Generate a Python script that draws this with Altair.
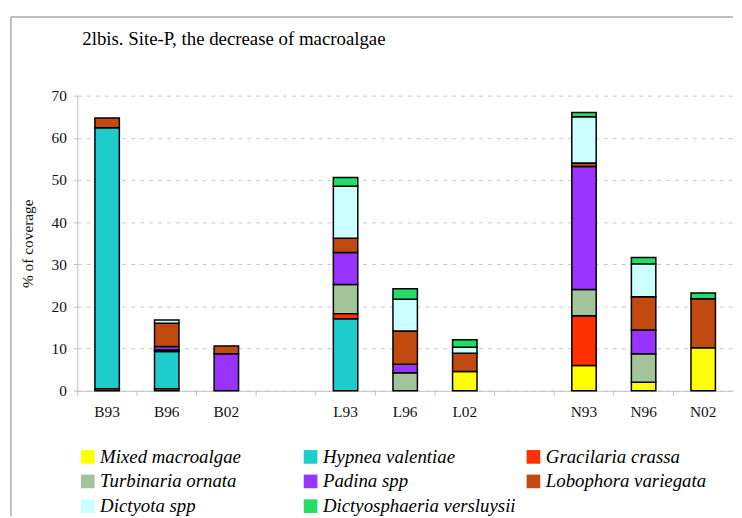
import altair as alt
import pandas as pd

title_text = "2lbis. Site-P, the decrease of macroalgae"
samples = ["B93", "B96", "B02", "L93", "L96", "L02", "N93", "N96", "N02"]
x_slots = ["B93", "B96", "B02", "gap1", "L93", "L96", "L02", "gap2", "N93", "N96", "N02"]

species = [
    "Mixed macroalgae", "Hypnea valentiae", "Gracilaria crassa",
    "Turbinaria ornata", "Padina spp", "Lobophora variegata",
    "Dictyota spp", "Dictyosphaeria versluysii",
]
colors = ["#FFFF00", "#1FCCCC", "#FF3000", "#A3C49B", "#9933FF", "#C24A10", "#CCFFFF", "#22DD66"]

mixed      = [0.5, 0.5, 0.0, 0.0, 0.0, 4.6, 6.0, 2.0, 10.2]
hypnea     = [61.9, 8.8, 0.0, 17.1, 0.0, 0.0, 0.0, 0.0, 0.0]
gracilaria = [0.0, 0.0, 0.0, 1.2, 0.0, 0.0, 11.8, 0.0, 0.0]
turbinaria = [0.0, 0.4, 0.0, 6.9, 4.3, 0.0, 6.2, 6.8, 0.0]
padina     = [0.0, 0.8, 8.8, 7.6, 2.0, 0.0, 29.2, 5.6, 0.0]
lobophora  = [2.3, 5.5, 1.8, 3.4, 7.9, 4.3, 0.8, 7.9, 11.6]
dictyota   = [0.0, 0.8, 0.0, 12.3, 7.5, 1.4, 11.0, 7.8, 0.0]
dictyosph  = [0.0, 0.0, 0.0, 2.1, 2.5, 1.8, 1.0, 1.5, 1.4]

series = [mixed, hypnea, gracilaria, turbinaria, padina, lobophora, dictyota, dictyosph]

rows = []
for k, (name, vals) in enumerate(zip(species, series)):
    for s, v in zip(samples, vals):
        if v > 0:
            rows.append({"sample": s, "species": name, "value": v, "idx": k})
df = pd.DataFrame(rows)

FONT = "Liberation Serif"
xscale = alt.Scale(domain=x_slots, paddingInner=0, paddingOuter=0)
xaxis = alt.Axis(title=None, labelExpr="indexof(datum.value,'gap')>=0 ? '' : datum.value",
                 labelAngle=0, ticks=False, domainColor="#c0c0c0",
                 labelPadding=14, grid=False)

bars = alt.Chart(df).mark_bar(
    width=alt.RelativeBandSize(0.41), stroke="black", strokeWidth=1.5
).encode(
    x=alt.X("sample:N", scale=xscale, axis=xaxis),
    y=alt.Y("value:Q", stack="zero", scale=alt.Scale(domain=[0, 70], nice=False),
            axis=alt.Axis(title="% of coverage", tickCount=7,
                          tickSize=4, tickColor="#c0c0c0", domainColor="#c0c0c0",
                          labelPadding=7, titlePadding=16,
                          grid=True, gridDash=[4, 5], gridColor="#c8c8c8")),
    color=alt.Color("species:N", scale=alt.Scale(domain=species, range=colors),
                    legend=alt.Legend(title=None, orient="none", legendX=1, legendY=355,
                                      direction="horizontal", columns=3,
                                      symbolType="square", symbolSize=190,
                                      symbolStrokeWidth=0, labelFont=FONT, labelFontStyle="italic",
                                      labelFontSize=19, labelColor="black", gridAlign="all",
                                      columnPadding=8, rowPadding=5, labelOffset=3,
                                      padding=0, labelLimit=400)),
    order=alt.Order("idx:Q", sort="ascending"),
)

tick_df = pd.DataFrame({"sample": x_slots})
xticks = alt.Chart(tick_df).mark_rule(color="#c0c0c0", strokeWidth=1).encode(
    x=alt.X("sample:N", scale=xscale, bandPosition=0, axis=xaxis),
    y=alt.value(298), y2=alt.value(303),
)

one = alt.Data(values=[{"t": title_text}])
title_mark = alt.Chart(one).mark_text(
    font=FONT, fontSize=19, color="black", align="left", baseline="alphabetic"
).encode(x=alt.value(5), y=alt.value(-51), text="t:N")

top_rule = alt.Chart(one).mark_rule(color="#aaaaaa", strokeWidth=1.5).encode(
    x=alt.value(-67), x2=alt.value(662), y=alt.value(-79.5))
left_rule = alt.Chart(one).mark_rule(color="#aaaaaa", strokeWidth=1.5).encode(
    x=alt.value(-67), y=alt.value(-79.5), y2=alt.value(425))

chart = alt.layer(bars, xticks, title_mark, top_rule, left_rule).properties(
    width=662, height=298,
    padding={"left": 2, "top": 5, "right": 0, "bottom": 2},
).configure_view(strokeWidth=0).configure_axis(
    labelFont=FONT, labelFontSize=15.5, labelColor="#111111",
    titleFont=FONT, titleFontSize=15.5, titleFontWeight="normal", titleColor="#111111",
)

chart.save("out.html", embed_options={"renderer": "svg", "actions": False})
